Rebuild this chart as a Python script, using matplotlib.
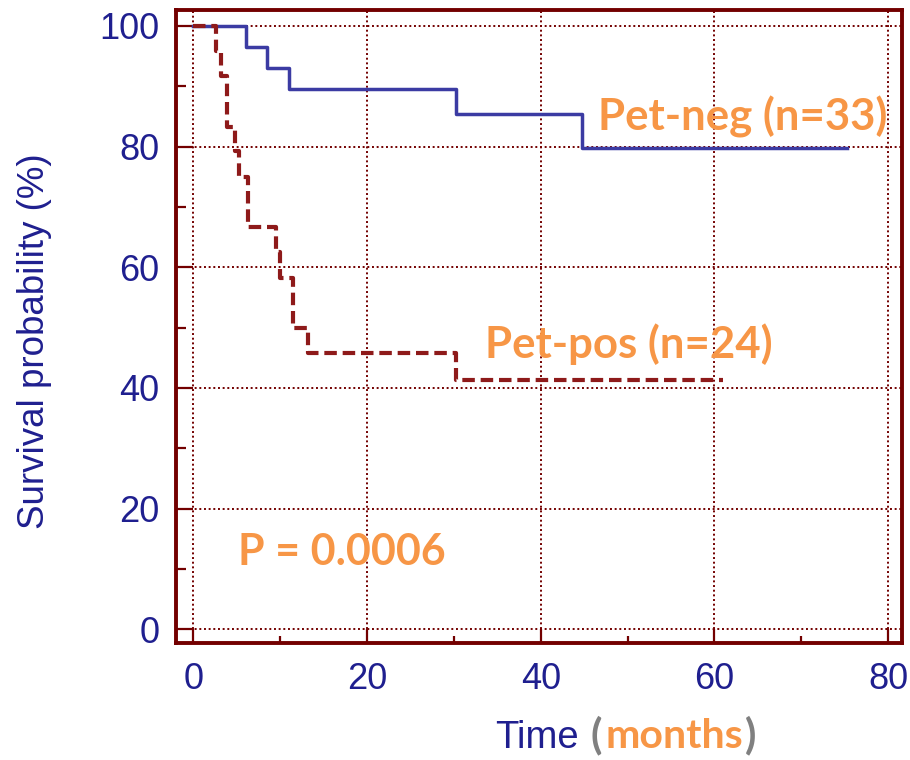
import matplotlib
matplotlib.use("Agg")
import matplotlib.pyplot as plt
import numpy as np

# Kaplan-Meier steps
neg_t = [0, 6.1, 8.5, 11.0, 30.3, 44.7, 75.3]
neg_s = [100, 96.6, 93.0, 89.5, 85.4, 79.7, 79.7]

pos_t = [0, 2.6, 3.2, 3.85, 4.8, 5.3, 6.3, 9.5, 10.0, 11.5, 13.25, 30.2, 61.0]
pos_s = [100, 95.8, 91.7, 83.3, 79.2, 75.0, 66.7, 62.5, 58.3, 50.0, 45.8, 41.3, 41.3]

x_major = [0, 20, 40, 60, 80]
y_major = [0, 20, 40, 60, 80, 100]

navy = '#1f1f8f'
maroon = '#730000'
orange = '#f79646'
line_blue = '#3b3ba3'
line_red = '#8e1a1a'

plt.rcParams['font.family'] = ['Liberation Sans', 'DejaVu Sans']
lato = ['Lato', 'DejaVu Sans']

fig = plt.figure(figsize=(9.1, 7.6), dpi=100)
ax = fig.add_axes([176 / 910, 1 - 643 / 760, (902 - 176) / 910, (643 - 10) / 760])

ax.plot(neg_t, neg_s, drawstyle='steps-post', color=line_blue, lw=2.5, zorder=3)
ax.plot(pos_t, pos_s, drawstyle='steps-post', color=line_red, lw=3.0,
        dashes=(3.0, 1.4), zorder=3)

ax.set_xlim(-1.99, 81.6)
ax.set_ylim(-2.27, 102.65)
ax.set_xticks(x_major)
ax.set_yticks(y_major)
ax.set_xticks(np.arange(10, 80, 20), minor=True)
ax.set_yticks(np.arange(10, 100, 20), minor=True)

ax.grid(True, which='major', color=maroon, ls=(0, (1, 1.4)), lw=1.4)

for s in ax.spines.values():
    s.set_color(maroon)
    s.set_linewidth(2.8)

ax.tick_params(axis='both', which='both', direction='in', color=maroon,
               labelcolor=navy, labelsize=26, width=1.6)
ax.tick_params(axis='y', which='major', length=12.5, pad=12)
ax.tick_params(axis='y', which='minor', length=7)
ax.tick_params(axis='x', which='major', length=10, pad=14)
ax.tick_params(axis='x', which='minor', length=5)

fig.text(17 / 910, 1 - 341 / 760, 'Survival probability (%)', rotation=90,
         ha='left', va='center', color=navy, fontsize=26.5)

yb = 1 - 748 / 760
fig.text(495 / 910, yb, 'Time', color=navy, fontsize=27.5, va='baseline')
fig.text(590 / 910, yb, '(', color='#808080', fontsize=30, fontweight='bold',
         family=lato, va='baseline')
fig.text(606 / 910, yb, 'months', color=orange, fontsize=29.5, fontweight='bold',
         family=lato, va='baseline')
fig.text(745 / 910, yb, ')', color='#808080', fontsize=30, fontweight='bold',
         family=lato, va='baseline')

ax.text(46.6, 82.6, 'Pet-neg (n=33)', color=orange, fontsize=31.5,
        fontweight='bold', family=lato, va='baseline', zorder=4)
ax.text(33.6, 45.0, 'Pet-pos (n=24)', color=orange, fontsize=31.5,
        fontweight='bold', family=lato, va='baseline', zorder=4)
ax.text(5.15, 10.65, 'P = 0.0006', color=orange, fontsize=31,
        fontweight='bold', family=lato, va='baseline', zorder=4)

fig.savefig('out.png', dpi=100)
